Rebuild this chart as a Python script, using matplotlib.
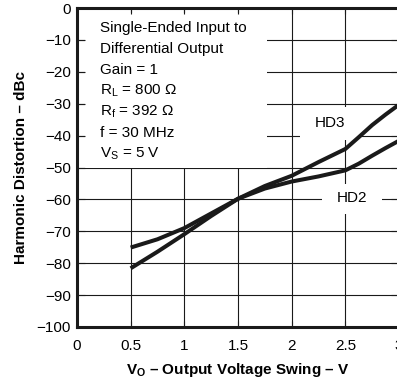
import numpy as np
import matplotlib
matplotlib.use("Agg")
import matplotlib.pyplot as plt
from matplotlib.patches import Rectangle

plt.rcParams['font.family'] = ['Liberation Sans', 'DejaVu Sans']
plt.rcParams['mathtext.fontset'] = 'custom'
plt.rcParams['mathtext.rm'] = 'Liberation Sans'
plt.rcParams['mathtext.it'] = 'Liberation Sans'

# output voltage swing (V) and distortion (dBc)
vo = [0.5, 0.75, 1.0, 1.25, 1.5, 1.75, 2.0, 2.25, 2.5, 2.625, 2.75, 2.875, 3.0]
hd2 = [-75.1, -72.5, -69.0, -64.4, -59.8, -56.6, -54.4, -52.8, -50.9, -48.8, -46.3, -43.9, -41.6]
hd3 = [-81.6, -76.4, -70.9, -65.2, -59.8, -55.8, -52.6, -48.3, -44.2, -40.5, -36.7, -33.4, -30.3]

xticks = [0, 0.5, 1, 1.5, 2, 2.5, 3]
xticklabels = ['0', '0.5', '1', '1.5', '2', '2.5', '3']
yticks = list(range(-100, 1, 10))

notes = ['Single-Ended Input to',
         'Differential Output',
         'Gain = 1',
         r'R$_\mathregular{L}$ = 800 Ω',
         r'R$_\mathregular{f}$ = 392 Ω',
         'f = 30 MHz',
         r'V$_\mathregular{S}$ = 5 V']

fig = plt.figure(figsize=(3.97, 3.81), dpi=100)
ax = fig.add_axes([77 / 397, 54 / 381, 322 / 397, 319 / 381])

# grid drawn by hand so the note box can sit between grid and ticks
for x in xticks[1:-1]:
    ax.axvline(x, color='#1a1a1a', lw=0.8, zorder=1)
for y in yticks[1:-1]:
    ax.axhline(y, color='#1a1a1a', lw=0.8, zorder=1)

# white areas behind the notes and the curve labels
ax.add_patch(Rectangle((0.075, -50), 1.695, 48.4, fc='white', ec='none', zorder=1.5))
ax.add_patch(Rectangle((2.08, -41.4), 0.56, 10.4, fc='white', ec='none', zorder=1.5))
ax.add_patch(Rectangle((2.28, -64.6), 0.56, 9.4, fc='white', ec='none', zorder=1.5))

ax.plot(vo, hd2, color='#1a1a1a', lw=2.9, solid_capstyle='butt', zorder=3)
ax.plot(vo, hd3, color='#1a1a1a', lw=2.9, solid_capstyle='butt', zorder=3)

ax.text(2.36, -36.2, 'HD3', fontsize=11, ha='center', va='center', zorder=4)
ax.text(2.56, -59.7, 'HD2', fontsize=11, ha='center', va='center', zorder=4)

for i, line in enumerate(notes):
    ax.text(0.214, -7.43 - 6.58 * i, line, fontsize=11, ha='left', va='baseline', zorder=4)

ax.set_xlim(0, 3)
ax.set_ylim(-100, 0)
ax.set_xticks(xticks)
ax.set_xticklabels(xticklabels)
ax.set_yticks(yticks)
ax.tick_params(axis='both', direction='in', top=True, right=True, labelsize=11,
               color='#1a1a1a', width=0.8)
ax.tick_params(axis='x', length=4, pad=8.5)
ax.tick_params(axis='y', length=6, pad=4.5)
for s in ax.spines.values():
    s.set_linewidth(2.2)
    s.set_color('#1a1a1a')

ax.set_xlabel(r'V$_\mathregular{O}$ – Output Voltage Swing – V', fontsize=11,
              fontweight='bold', labelpad=6)
ax.set_ylabel('Harmonic Distortion – dBc', fontsize=11, fontweight='bold', labelpad=6)

fig.savefig('out.png', dpi=100)
